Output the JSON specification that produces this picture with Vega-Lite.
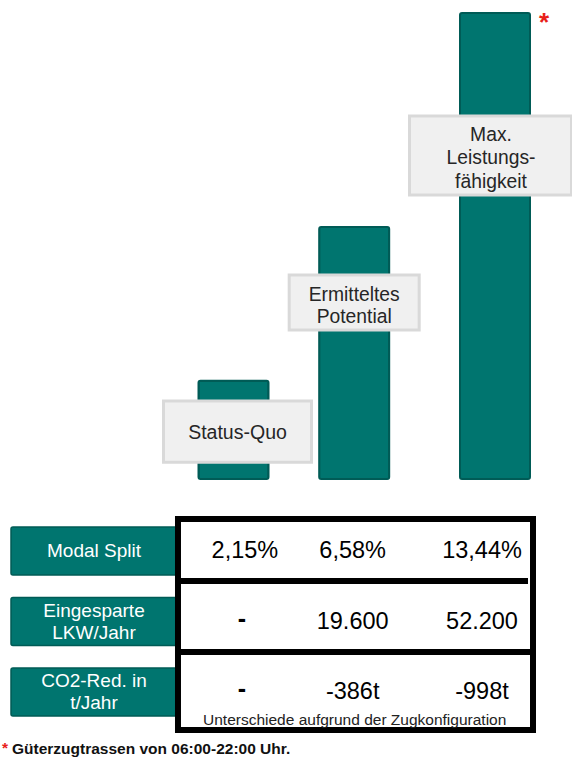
{
  "$schema": "https://vega.github.io/schema/vega-lite/v6.json",
  "width": 572,
  "height": 758,
  "autosize": {"type": "none"},
  "padding": 0,
  "background": "white",
  "config": {"view": {"stroke": null}, "text": {"font": "Liberation Sans"}},
  "datasets": {
    "bars": [
      {"cat": "Status-Quo", "label": "Status-Quo", "value": 20.5},
      {"cat": "Ermitteltes Potential", "label": "Ermitteltes\nPotential", "value": 52.6},
      {"cat": "Max. Leistungsfähigkeit", "label": "Max.\nLeistungs-\nfähigkeit", "value": 97.3}
    ],
    "headers": [
      {"row": "Modal Split", "col": "Kennzahl", "text": "Modal Split"},
      {"row": "Eingesparte LKW/Jahr", "col": "Kennzahl", "text": "Eingesparte\nLKW/Jahr"},
      {"row": "CO2-Red. in t/Jahr", "col": "Kennzahl", "text": "CO2-Red. in\nt/Jahr"}
    ],
    "cells": [
      {"row": "Modal Split", "col": "Status-Quo", "text": "2,15%"},
      {"row": "Modal Split", "col": "Ermitteltes Potential", "text": "6,58%"},
      {"row": "Modal Split", "col": "Max. Leistungsfähigkeit", "text": "13,44%"},
      {"row": "Eingesparte LKW/Jahr", "col": "Status-Quo", "text": "-"},
      {"row": "Eingesparte LKW/Jahr", "col": "Ermitteltes Potential", "text": "19.600"},
      {"row": "Eingesparte LKW/Jahr", "col": "Max. Leistungsfähigkeit", "text": "52.200"},
      {"row": "CO2-Red. in t/Jahr", "col": "Status-Quo", "text": "-"},
      {"row": "CO2-Red. in t/Jahr", "col": "Ermitteltes Potential", "text": "-386t"},
      {"row": "CO2-Red. in t/Jahr", "col": "Max. Leistungsfähigkeit", "text": "-998t"}
    ]
  },
  "resolve": {"scale": {"x": "independent", "y": "independent"}},
  "layer": [
    {
      "data": {"name": "bars"},
      "encoding": {
        "x": {
          "field": "cat", "type": "nominal",
          "scale": {"type": "point", "padding": 0, "range": [233.5, 495],
            "domain": ["Status-Quo", "·1", "·2", "·3", "·4", "·5", "Ermitteltes Potential", "·6", "·7", "·8", "·9", "·10", "·11", "Max. Leistungsfähigkeit"]},
          "axis": null
        }
      },
      "layer": [
        {
          "mark": {"type": "bar", "size": 70, "fill": "#00756f", "stroke": "#005b56", "strokeWidth": 2, "cornerRadius": 2},
          "encoding": {
            "y": {"field": "value", "type": "quantitative", "scale": {"domain": [0, 100], "range": [479, 0], "nice": false, "zero": true}, "axis": null}
          }
        },
        {
          "transform": [{"filter": "datum.cat === 'Status-Quo'"}],
          "layer": [
            {
              "mark": {"type": "bar", "size": 148, "xOffset": 4, "fill": "#f0f0f0", "stroke": "#d9d9d9", "strokeWidth": 3},
              "encoding": {"y": {"datum": 16.3, "type": "quantitative"}, "y2": {"datum": 3.5}}
            },
            {
              "mark": {"type": "text", "fontSize": 19.5, "color": "#262626", "dx": 4, "lineBreak": "\n"},
              "encoding": {"y": {"datum": 9.6, "type": "quantitative"}, "text": {"field": "label"}}
            }
          ]
        },
        {
          "transform": [{"filter": "datum.cat === 'Ermitteltes Potential'"}],
          "layer": [
            {
              "mark": {"type": "bar", "size": 130, "fill": "#f0f0f0", "stroke": "#d9d9d9", "strokeWidth": 3},
              "encoding": {"y": {"datum": 42.6, "type": "quantitative"}, "y2": {"datum": 31.1}}
            },
            {
              "mark": {"type": "text", "fontSize": 19.3, "lineHeight": 21.5, "color": "#262626", "dy": -10.75, "lineBreak": "\n"},
              "encoding": {"y": {"datum": 36.1, "type": "quantitative"}, "text": {"field": "label"}}
            }
          ]
        },
        {
          "transform": [{"filter": "datum.cat === 'Max. Leistungsfähigkeit'"}],
          "layer": [
            {
              "mark": {"type": "bar", "size": 162, "xOffset": -4.5, "fill": "#f0f0f0", "stroke": "#d9d9d9", "strokeWidth": 3},
              "encoding": {"y": {"datum": 75.8, "type": "quantitative"}, "y2": {"datum": 59.3}}
            },
            {
              "mark": {"type": "text", "fontSize": 19.3, "lineHeight": 23.5, "color": "#262626", "dx": -4, "dy": -23.5, "lineBreak": "\n"},
              "encoding": {"y": {"datum": 67.0, "type": "quantitative"}, "text": {"field": "label"}}
            },
            {
              "mark": {"type": "text", "fontSize": 26, "fontWeight": "bold", "color": "#e8201a", "dx": 49, "dy": 18, "baseline": "alphabetic"},
              "encoding": {"y": {"field": "value", "type": "quantitative"}, "text": {"value": "*"}}
            }
          ]
        }
      ]
    },
    {
      "encoding": {
        "x": {
          "field": "col", "type": "nominal",
          "scale": {"type": "point", "padding": 0, "range": [94, 482],
            "domain": ["Kennzahl", "·a1", "·a2", "·a3", "·a4", "·a5", "·a6", "Status-Quo", "·b1", "·b2", "·b3", "·b4", "Ermitteltes Potential", "·c1", "·c2", "·c3", "·c4", "·c5", "Max. Leistungsfähigkeit"]},
          "axis": null
        },
        "y": {
          "field": "row", "type": "nominal",
          "scale": {"type": "point", "padding": 0, "range": [551, 692], "domain": ["Modal Split", "Eingesparte LKW/Jahr", "CO2-Red. in t/Jahr"]},
          "axis": null
        }
      },
      "layer": [
        {
          "data": {"name": "headers"},
          "mark": {"type": "rect", "width": 166, "height": 48, "fill": "#00756f", "stroke": "#005b56", "strokeWidth": 1.5, "cornerRadius": 2}
        },
        {
          "data": {"name": "headers"},
          "transform": [{"filter": "indexof(datum.text, '\\n') < 0"}],
          "mark": {"type": "text", "fontSize": 19, "color": "white"},
          "encoding": {"text": {"field": "text"}}
        },
        {
          "data": {"name": "headers"},
          "transform": [{"filter": "indexof(datum.text, '\\n') >= 0"}],
          "mark": {"type": "text", "fontSize": 19, "lineHeight": 22, "color": "white", "dy": -11, "lineBreak": "\n"},
          "encoding": {"text": {"field": "text"}}
        },
        {
          "data": {"name": "cells"},
          "transform": [{"filter": "datum.text !== '-'"}],
          "mark": {"type": "text", "fontSize": 23.5, "color": "black"},
          "encoding": {"text": {"field": "text"}}
        },
        {
          "data": {"name": "cells"},
          "transform": [{"filter": "datum.text === '-'"}],
          "mark": {"type": "text", "fontSize": 25, "fontWeight": "bold", "color": "black", "dx": -3, "dy": -3},
          "encoding": {"text": {"field": "text"}}
        },
        {
          "data": {"values": [{}]},
          "mark": {"type": "rect", "fillOpacity": 0, "stroke": "black", "strokeWidth": 6, "xOffset": -66.9, "x2Offset": 51, "yOffset": -32, "y2Offset": 38},
          "encoding": {
            "x": {"datum": "Status-Quo"}, "x2": {"datum": "Max. Leistungsfähigkeit"},
            "y": {"datum": "Modal Split"}, "y2": {"datum": "CO2-Red. in t/Jahr"}
          }
        },
        {
          "data": {"values": [{}]},
          "mark": {"type": "rule", "stroke": "black", "strokeWidth": 6, "xOffset": -66.9, "x2Offset": 46, "yOffset": 30},
          "encoding": {
            "x": {"datum": "Status-Quo"}, "x2": {"datum": "Max. Leistungsfähigkeit"},
            "y": {"datum": "Modal Split"}
          }
        },
        {
          "data": {"values": [{}]},
          "mark": {"type": "rule", "stroke": "black", "strokeWidth": 6, "xOffset": -66.9, "x2Offset": 51, "yOffset": 30.5},
          "encoding": {
            "x": {"datum": "Status-Quo"}, "x2": {"datum": "Max. Leistungsfähigkeit"},
            "y": {"datum": "Eingesparte LKW/Jahr"}
          }
        },
        {
          "data": {"values": [{}]},
          "mark": {"type": "text", "fontSize": 15.5, "color": "#222222", "dx": 2, "dy": 27.5},
          "encoding": {
            "x": {"datum": "Ermitteltes Potential"}, "y": {"datum": "CO2-Red. in t/Jahr"},
            "text": {"value": "Unterschiede aufgrund der Zugkonfiguration"}
          }
        },
        {
          "data": {"values": [{}]},
          "mark": {"type": "text", "fontSize": 15.5, "fontWeight": "bold", "color": "#111111", "align": "left", "dx": -82, "dy": 56.5},
          "encoding": {
            "x": {"datum": "Kennzahl"}, "y": {"datum": "CO2-Red. in t/Jahr"},
            "text": {"value": "Güterzugtrassen von 06:00-22:00 Uhr."}
          }
        },
        {
          "data": {"values": [{}]},
          "mark": {"type": "text", "fontSize": 15.5, "fontWeight": "bold", "color": "#e8201a", "align": "left", "dx": -92, "dy": 55.5},
          "encoding": {
            "x": {"datum": "Kennzahl"}, "y": {"datum": "CO2-Red. in t/Jahr"},
            "text": {"value": "*"}
          }
        }
      ]
    }
  ]
}
